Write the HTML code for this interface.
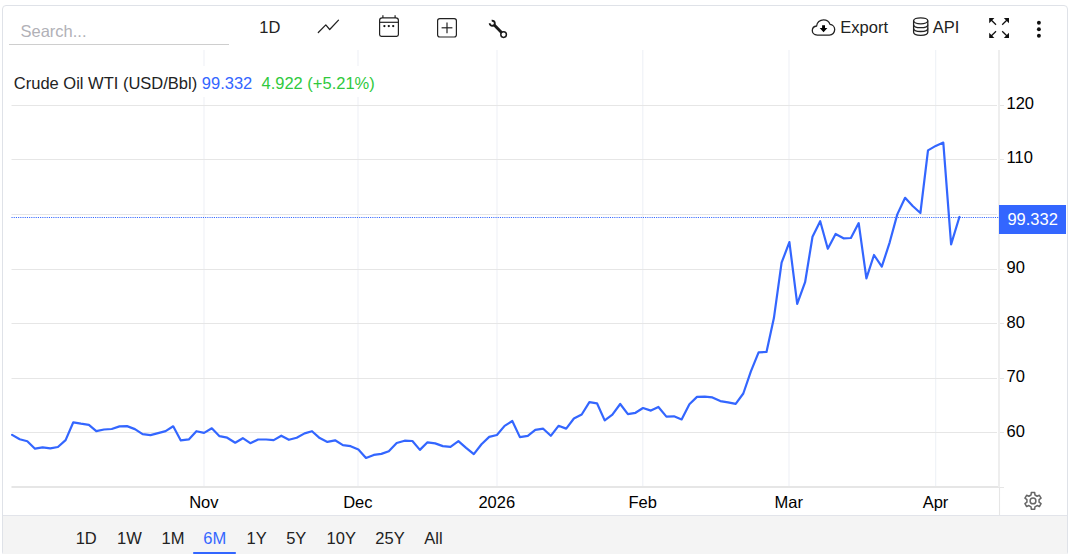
<!DOCTYPE html>
<html><head><meta charset="utf-8"><title>Crude Oil WTI</title>
<style>
html,body{margin:0;padding:0;background:#fff;}
body{width:1069px;height:554px;position:relative;overflow:hidden;font-family:"Liberation Sans",sans-serif;}
.box{position:absolute;left:2px;top:5px;width:1064px;height:549px;border:1px solid #dfe2e8;border-radius:4px;background:#fff;box-sizing:content-box;}
.foot{position:absolute;left:3px;top:515px;width:1064px;height:39px;background:#f4f4f4;border-top:1px solid #e2e4ea;box-sizing:border-box;}
.t{font-family:"Liberation Sans",sans-serif;font-size:16.5px;fill:#222;}
</style></head><body>
<div class="box"></div>
<div class="foot"></div>
<svg width="1069" height="554" viewBox="0 0 1069 554" style="position:absolute;left:0;top:0">
<line x1="204" y1="50" x2="204" y2="487" stroke="#eef1f6" stroke-width="1.1"/>
<line x1="358" y1="50" x2="358" y2="487" stroke="#eef1f6" stroke-width="1.1"/>
<line x1="497" y1="50" x2="497" y2="487" stroke="#eef1f6" stroke-width="1.1"/>
<line x1="642.8" y1="50" x2="642.8" y2="487" stroke="#eef1f6" stroke-width="1.1"/>
<line x1="789" y1="50" x2="789" y2="487" stroke="#eef1f6" stroke-width="1.1"/>
<line x1="935.7" y1="50" x2="935.7" y2="487" stroke="#eef1f6" stroke-width="1.1"/>
<rect x="11" y="66" width="372" height="31" fill="#fff"/>
<line x1="11.5" y1="105.5" x2="997" y2="105.5" stroke="#e6e6e6" stroke-width="1"/>
<line x1="999" y1="105.5" x2="1004" y2="105.5" stroke="#e6e6e6" stroke-width="1"/>
<line x1="11.5" y1="159.5" x2="997" y2="159.5" stroke="#e6e6e6" stroke-width="1"/>
<line x1="999" y1="159.5" x2="1004" y2="159.5" stroke="#e6e6e6" stroke-width="1"/>
<line x1="11.5" y1="214.5" x2="997" y2="214.5" stroke="#e6e6e6" stroke-width="1"/>
<line x1="999" y1="214.5" x2="1004" y2="214.5" stroke="#e6e6e6" stroke-width="1"/>
<line x1="11.5" y1="269.5" x2="997" y2="269.5" stroke="#e6e6e6" stroke-width="1"/>
<line x1="999" y1="269.5" x2="1004" y2="269.5" stroke="#e6e6e6" stroke-width="1"/>
<line x1="11.5" y1="323.5" x2="997" y2="323.5" stroke="#e6e6e6" stroke-width="1"/>
<line x1="999" y1="323.5" x2="1004" y2="323.5" stroke="#e6e6e6" stroke-width="1"/>
<line x1="11.5" y1="378.5" x2="997" y2="378.5" stroke="#e6e6e6" stroke-width="1"/>
<line x1="999" y1="378.5" x2="1004" y2="378.5" stroke="#e6e6e6" stroke-width="1"/>
<line x1="11.5" y1="432.5" x2="997" y2="432.5" stroke="#e6e6e6" stroke-width="1"/>
<line x1="999" y1="432.5" x2="1004" y2="432.5" stroke="#e6e6e6" stroke-width="1"/>
<line x1="11.5" y1="487" x2="999" y2="487" stroke="#e6e6e6" stroke-width="2"/>
<line x1="999" y1="487.5" x2="1004" y2="487.5" stroke="#e6e6e6" stroke-width="1"/>
<line x1="999" y1="50" x2="999" y2="487" stroke="#eeeeee" stroke-width="2"/>
<line x1="999.5" y1="487" x2="999.5" y2="515" stroke="#e6e6e6" stroke-width="1.1"/>
<line x1="11.5" y1="217.5" x2="999" y2="217.5" stroke="#3366ff" stroke-width="1" stroke-dasharray="1.1 1.1"/>
<polyline points="12.1,434.9 19.7,439.3 27.3,441.2 35.0,448.7 42.6,447.4 50.3,448.3 57.9,447.0 65.6,440.1 73.3,422.3 80.9,423.7 88.9,424.8 96.3,431.1 104.0,429.5 111.7,429.0 119.5,426.4 127.0,426.1 134.9,429.1 142.6,434.1 150.5,435.1 158.1,433.1 165.6,431.1 173.2,426.3 180.8,440.4 188.8,439.4 196.4,431.2 204.1,432.9 211.8,428.3 219.5,436.2 227.2,437.7 235.2,442.7 242.8,438.2 250.3,443.2 258.1,439.5 266.1,439.5 273.7,440.1 281.3,435.7 288.9,439.8 296.7,437.8 304.6,433.4 312.0,431.2 319.7,438.1 327.4,441.9 335.1,440.3 342.9,445.1 350.6,446.2 358.4,449.6 366.0,458.0 373.8,454.9 381.4,453.9 388.8,451.2 396.7,443.0 404.6,440.7 412.4,441.0 419.9,449.9 427.5,442.3 435.2,443.4 442.8,446.1 450.5,446.8 458.4,441.1 466.1,447.8 473.8,454.1 481.5,444.2 489.2,436.9 496.9,435.0 504.6,425.9 512.3,421.0 519.9,437.1 527.8,435.8 535.3,429.9 543.2,428.7 550.8,435.8 558.5,425.8 566.2,428.6 573.9,418.5 581.7,414.5 589.4,402.1 597.0,403.3 604.7,420.4 612.4,414.7 620.2,404.0 627.9,414.1 635.5,412.8 643.0,408.0 650.9,410.6 658.4,407.0 666.4,416.6 674.0,416.3 681.6,419.4 689.4,404.2 697.0,396.9 704.8,396.7 712.4,397.4 720.3,401.1 728.0,402.3 735.7,403.9 743.3,393.5 750.8,371.6 758.6,352.3 766.5,352.0 773.9,318.1 781.6,262.7 789.4,242.1 797.2,303.9 805.1,282.2 812.5,236.7 820.2,221.2 827.8,248.8 835.6,234.0 843.5,238.3 850.9,238.0 858.7,223.1 866.4,278.4 874.0,255.0 881.8,266.7 889.7,242.3 897.3,214.4 905.1,197.8 912.7,206.0 920.4,213.0 928.0,150.4 935.7,145.9 943.3,142.6 951.1,244.4 959.4,217.0" fill="none" stroke="#3366ff" stroke-width="2.2" stroke-linejoin="round" stroke-linecap="round"/>
<rect x="999" y="205" width="67" height="29" fill="#3366ff"/>
<text x="1007.4" y="225.3" class="t" style="fill:#fff">99.332</text>
<text x="1006.5" y="108.7" class="t" style="fill:#000">120</text>
<text x="1006.5" y="162.7" class="t" style="fill:#000">110</text>
<text x="1006.5" y="272.7" class="t" style="fill:#000">90</text>
<text x="1006.5" y="327.6" class="t" style="fill:#000">80</text>
<text x="1006.5" y="381.7" class="t" style="fill:#000">70</text>
<text x="1006.5" y="436.6" class="t" style="fill:#000">60</text>
<text x="203.8" y="507.6" class="t" style="fill:#000" text-anchor="middle">Nov</text>
<text x="357.8" y="507.6" class="t" style="fill:#000" text-anchor="middle">Dec</text>
<text x="496.8" y="507.6" class="t" style="fill:#000" text-anchor="middle">2026</text>
<text x="642.5999999999999" y="507.6" class="t" style="fill:#000" text-anchor="middle">Feb</text>
<text x="788.8" y="507.6" class="t" style="fill:#000" text-anchor="middle">Mar</text>
<text x="935.5" y="507.6" class="t" style="fill:#000" text-anchor="middle">Apr</text>
<text x="13.8" y="88.7" class="t">Crude Oil WTI (USD/Bbl)</text>
<text x="201.8" y="88.7" class="t" style="fill:#3366ff">99.332</text>
<text x="261.5" y="88.7" class="t" style="fill:#2fc93d">4.922 (+5.21%)</text>
<text x="20.5" y="36.7" class="t" style="fill:#b1b1b7">Search...</text>
<line x1="9" y1="44.5" x2="229" y2="44.5" stroke="#cecece" stroke-width="1"/>
<text x="259.3" y="32.8" class="t">1D</text>
<polyline points="318.3,32.5 325.8,24.9 329.7,29.5 338.5,20.1" fill="none" stroke="#222" stroke-width="1.25" stroke-linecap="round" stroke-linejoin="round"/>
<g fill="none" stroke="#222" stroke-width="1.2"><path d="M379.6 34.6 V20.4 Q379.6 17.8 382.2 17.8 H395.8 Q398.4 17.8 398.4 20.4 V34.6 Q398.4 36.3 396.7 36.3 H381.3 Q379.6 36.3 379.6 34.6 Z"/><line x1="379.6" y1="22.3" x2="398.4" y2="22.3"/><line x1="382.9" y1="15.2" x2="382.9" y2="18"/><line x1="395.1" y1="15.2" x2="395.1" y2="18"/></g>
<g fill="#111"><circle cx="384.4" cy="26.1" r="1.15"/><circle cx="388.8" cy="26.1" r="1.15"/><circle cx="393.2" cy="26.1" r="1.15"/></g>
<g fill="none" stroke="#222" stroke-width="1.2"><rect x="437.6" y="18.6" width="18.8" height="18.4" rx="2.2"/><line x1="441.6" y1="27.8" x2="452.4" y2="27.8"/><line x1="447" y1="22.4" x2="447" y2="33.2"/></g>
<g><path d="M491.7 20.75 A2.55 2.55 0 1 1 489.7 23.3" fill="none" stroke="#1a1a1a" stroke-width="1.9"/><line x1="494.0" y1="24.8" x2="501.8" y2="32.8" stroke="#1a1a1a" stroke-width="2.9"/><circle cx="503.6" cy="34.6" r="2.8" fill="#fff" stroke="#1a1a1a" stroke-width="1.5"/></g>
<g><path d="M817.3 35.1 C813.9 35.1 812.3 32.7 812.3 30.6 C812.3 28.2 814.0 26.3 816.6 26.0 C816.9 22.4 819.9 19.8 823.5 19.8 C826.6 19.8 829.1 21.6 830.0 24.4 C832.7 24.6 834.7 26.9 834.7 29.6 C834.7 32.6 832.4 35.1 829.4 35.1 Z" fill="none" stroke="#222" stroke-width="1.3" stroke-linejoin="round"/><path d="M822.1 25.2 h2.9 v2.9 h2.4 l-3.85 4.2 l-3.85 -4.2 h2.4 z" fill="#000"/></g>
<text x="840.3" y="32.8" class="t">Export</text>
<g fill="none" stroke="#222" stroke-width="1.3"><ellipse cx="920.7" cy="20.8" rx="7.1" ry="3.0"/><path d="M913.6 20.8 V32.3 C913.6 36.3 927.8 36.3 927.8 32.3 V20.8"/><path d="M913.6 24.7 C913.6 28.7 927.8 28.7 927.8 24.7"/><path d="M913.6 28.5 C913.6 32.5 927.8 32.5 927.8 28.5"/></g>
<text x="932.8" y="32.8" class="t">API</text>
<path d="M989.2 18.0 L994.4000000000001 18.0 L989.2 23.2 Z" fill="#111"/><line x1="990.7" y1="19.5" x2="996.0" y2="24.8" stroke="#111" stroke-width="1.25"/><path d="M1009.0 18.0 L1003.8 18.0 L1009.0 23.2 Z" fill="#111"/><line x1="1007.5" y1="19.5" x2="1002.2" y2="24.8" stroke="#111" stroke-width="1.25"/><path d="M989.2 38.0 L994.4000000000001 38.0 L989.2 32.8 Z" fill="#111"/><line x1="990.7" y1="36.5" x2="996.0" y2="31.2" stroke="#111" stroke-width="1.25"/><path d="M1009.0 38.0 L1003.8 38.0 L1009.0 32.8 Z" fill="#111"/><line x1="1007.5" y1="36.5" x2="1002.2" y2="31.2" stroke="#111" stroke-width="1.25"/>
<circle cx="1038.9" cy="22.7" r="1.95" fill="#111"/>
<circle cx="1038.9" cy="29.3" r="1.95" fill="#111"/>
<circle cx="1038.9" cy="35.8" r="1.95" fill="#111"/>
<path d="M1031.05 495.01 L1031.31 492.57 L1034.69 492.57 L1034.95 495.01 L1037.12 496.27 L1039.37 495.27 L1041.06 498.20 L1039.07 499.65 L1039.07 502.15 L1041.06 503.60 L1039.37 506.53 L1037.12 505.53 L1034.95 506.79 L1034.69 509.23 L1031.31 509.23 L1031.05 506.79 L1028.88 505.53 L1026.63 506.53 L1024.94 503.60 L1026.93 502.15 L1026.93 499.65 L1024.94 498.20 L1026.63 495.27 L1028.88 496.27 Z" fill="none" stroke="#666" stroke-width="1.5" stroke-linejoin="round"/>
<circle cx="1033" cy="500.9" r="2.9" fill="none" stroke="#666" stroke-width="1.5"/>
<text x="75.7" y="543.9" class="t">1D</text>
<text x="117.0" y="543.9" class="t">1W</text>
<text x="161.6" y="543.9" class="t">1M</text>
<text x="203.3" y="543.9" class="t" style="fill:#3366ff">6M</text>
<text x="246.5" y="543.9" class="t">1Y</text>
<text x="286.2" y="543.9" class="t">5Y</text>
<text x="326.6" y="543.9" class="t">10Y</text>
<text x="375.3" y="543.9" class="t">25Y</text>
<text x="424.3" y="543.9" class="t">All</text>
<rect x="193.2" y="552" width="42.6" height="2" fill="#3366ff"/>
</svg>
</body></html>
